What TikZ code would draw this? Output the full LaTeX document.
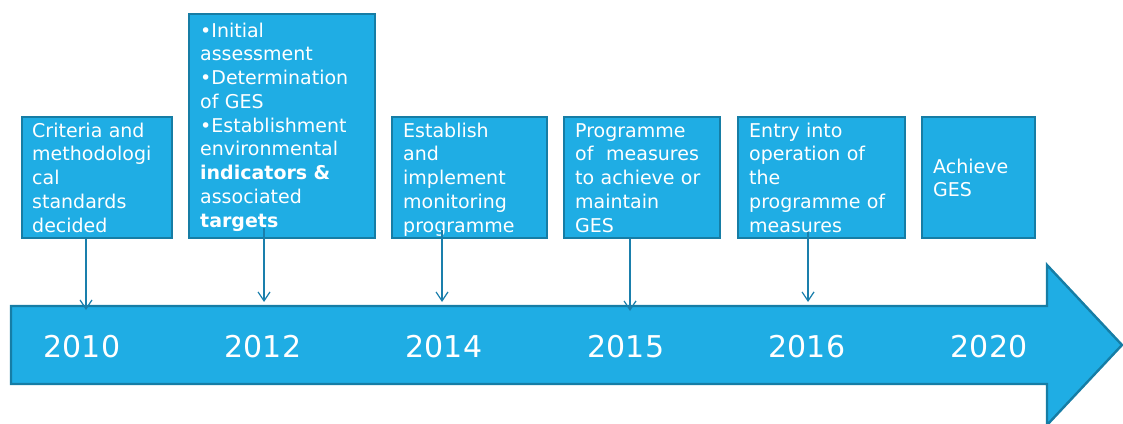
\documentclass[tikz,border=0pt]{standalone}
\usepackage{fontspec}
\setmainfont{DejaVu Sans}
\usetikzlibrary{arrows.meta}
\definecolor{boxfill}{HTML}{1FADE4}
\definecolor{boxedge}{HTML}{167DA5}
\definecolor{linkcol}{HTML}{1A7FAC}
\begin{document}
\begin{tikzpicture}[x=1pt,y=-1pt,
  stagebox/.style={draw=boxedge, fill=boxfill, line width=2.4pt, anchor=north west, inner sep=0pt, minimum height=121pt},
  stagetext/.style={text=white, anchor=base west, inner sep=0pt, align=left, text width=175pt, font=\fontsize{19}{23.75}\selectfont},
  yeartext/.style={text=white, anchor=base, inner sep=0pt, font=\fontsize{30}{36}\selectfont},
  link/.style={draw=linkcol, line width=1.2pt, -{Straight Barb[length=9pt,width=12pt,line width=1.2pt]}}]
\useasboundingbox (0,0) rectangle (1123,423);

% stage boxes
\node[stagebox, minimum width=150pt] (b1) at (21,116) {};
\node[stagebox, minimum width=186pt, minimum height=224pt] (b2) at (188,13) {};
\node[stagebox, minimum width=155pt] (b3) at (391,116) {};
\node[stagebox, minimum width=156pt] (b4) at (563,116) {};
\node[stagebox, minimum width=167pt] (b5) at (737,116) {};
\node[stagebox, minimum width=113pt] (b6) at (921,116) {};

% stage descriptions
\node[stagetext] (t1) at (32,137) {Criteria and\\methodologi\\cal\\standards\\decided};
\node[stagetext] (t2) at (200,37) {•Initial\\assessment\\•Determination\\of GES\\•Establishment\\environmental\\\textbf{indicators \&}\\associated\\\textbf{targets}};
\node[stagetext] (t3) at (403,137) {Establish\\and\\implement\\monitoring\\programme};
\node[stagetext] (t4) at (575,137) {Programme\\of\ \ measures\\to achieve or\\maintain\\GES};
\node[stagetext] (t5) at (749,137) {Entry into\\operation of\\the\\programme of\\measures};
\node[stagetext] (t6) at (933,173) {Achieve\\GES};

% timeline arrow
\draw[draw=boxedge, fill=boxfill, line width=2.4pt, line join=miter]
  (11,306) -- (1047,306) -- (1047,265) -- (1122,345) -- (1047,425) -- (1047,384) -- (11,384) -- cycle;

% years
\node[yeartext] (y1) at (82,357) {2010};
\node[yeartext] (y2) at (263,357) {2012};
\node[yeartext] (y3) at (444,357) {2014};
\node[yeartext] (y4) at (626,357) {2015};
\node[yeartext] (y5) at (807,357) {2016};
\node[yeartext] (y6) at (989,357) {2020};

% connectors from the stages down to the timeline
\coordinate (e1) at (86,310);
\coordinate (s2) at (264,228);
\coordinate (e2) at (264,302);
\coordinate (s3) at (442,230);
\coordinate (e3) at (442,302);
\coordinate (e4) at (630,311);
\coordinate (s5) at (808,232);
\coordinate (e5) at (808,302);
\draw[link] (b1.south -| e1) -- (e1);
\draw[link] (s2) -- (e2);
\draw[link] (s3) -- (e3);
\draw[link] (b4.south -| e4) -- (e4);
\draw[link] (s5) -- (e5);
\end{tikzpicture}
\end{document}
